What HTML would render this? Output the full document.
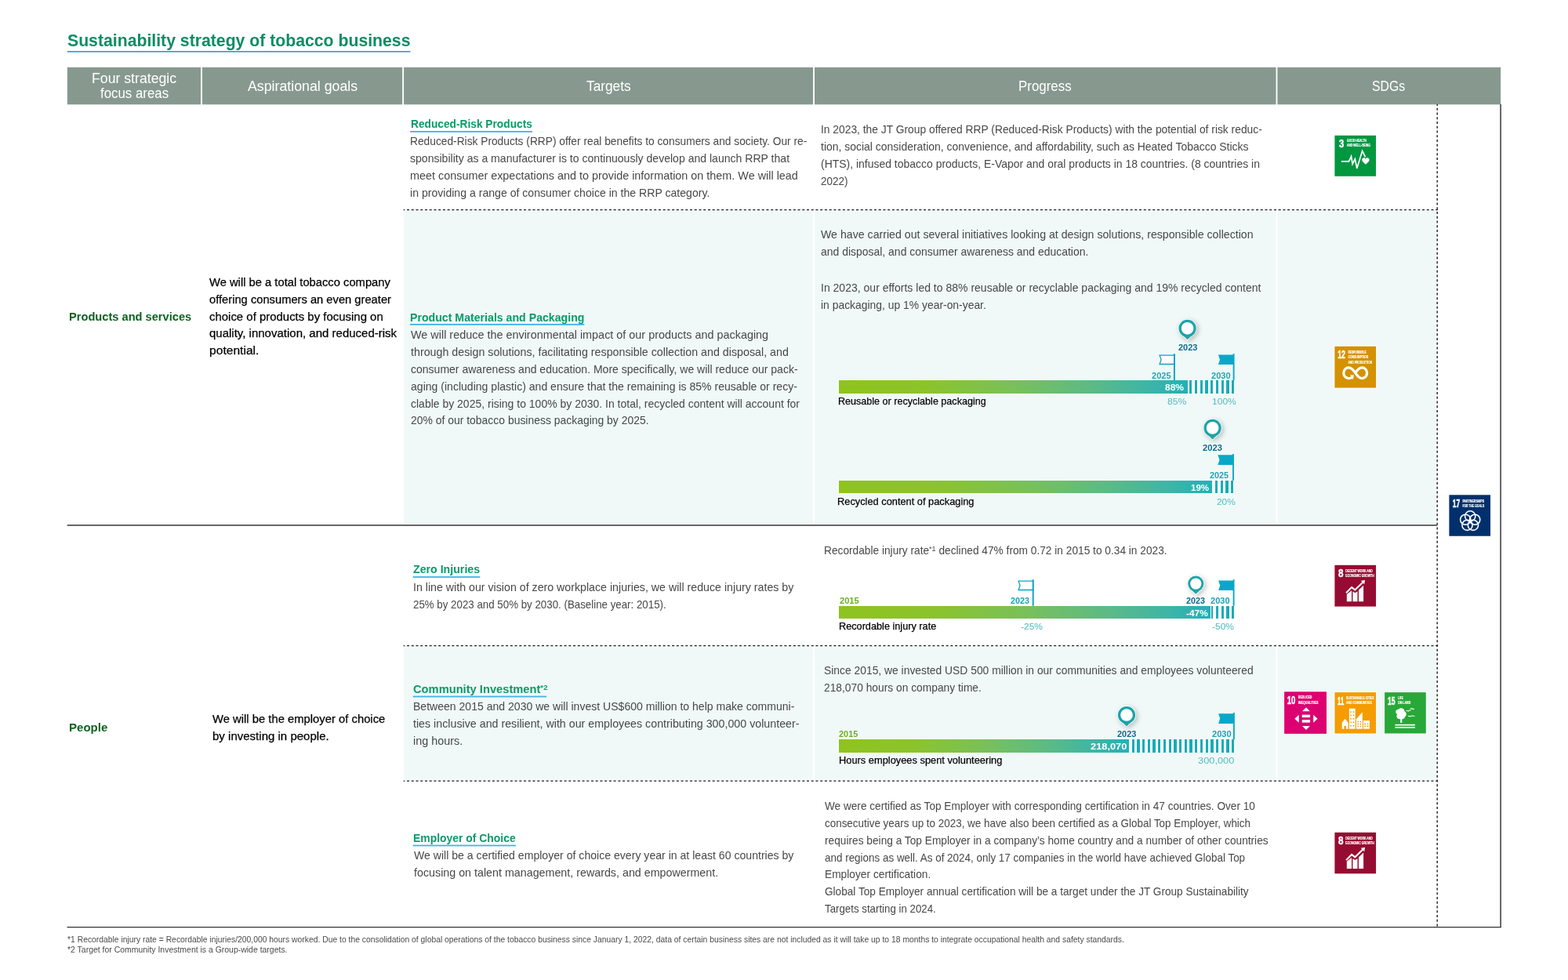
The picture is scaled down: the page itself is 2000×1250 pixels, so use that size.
<!DOCTYPE html>
<html lang="en">
<head>
<meta charset="utf-8">
<title>Sustainability strategy of tobacco business</title>
<style>
html,body{margin:0;padding:0;background:#fff}
body{position:relative;width:2000px;height:1250px;overflow:hidden;font-family:"Liberation Sans",sans-serif;color:#333}
.t{position:absolute;height:0;line-height:0;white-space:nowrap;transform-origin:0 0;margin:0;padding:0;font-weight:400}
.t sup{font-size:66%;vertical-align:baseline;position:relative;top:-.4em;line-height:0}
.ttl{color:#0c8d62;font-weight:700}
.th{color:#fff}
.c1{color:#0e6222;font-weight:700}
.c2{color:#000;-webkit-text-stroke:.25px #000}
.h3{color:#0c9a68;font-weight:700}
.b{color:#484848}
.cl{color:#000;-webkit-text-stroke:.25px #000}
.cl,.yp,.yf,.yg,.vt{text-shadow:0 0 1px #fff,0 0 1.5px #fff}
.yp{color:#0a6a8c;font-weight:700}
.yf{color:#1aa3b3;font-weight:700}
.yg{color:#6aaf1f;font-weight:700}
.vw{color:#fff;font-weight:700}
.vt{color:#49b9be}
.fn{color:#4a4a4a}
.bar{position:absolute;height:16.4px;background:linear-gradient(90deg,#8fc31f 0%,#8cc32c 25%,#7ac05a 50%,#5dba85 72%,#3fb5a6 88%,#25b0b6 100%);box-shadow:0 0 0 .7px rgba(255,255,255,.85)}
.st{position:absolute;height:16.4px;background:#19abb8;box-shadow:0 0 0 .7px rgba(255,255,255,.85)}
.sw{position:absolute;height:17.8px;background:#fff}
svg{position:absolute;overflow:visible}
</style>
</head>
<body>
<svg style="left:0;top:0" width="2000" height="1250" viewBox="0 0 2000 1250" fill="none"><rect x="85.8" y="65" width="437.6" height="1.6" fill="#2397f0"/><rect x="85.8" y="85.85" width="170.2" height="47.45" fill="#87998f"/><rect x="258" y="85.85" width="255.2" height="47.45" fill="#87998f"/><rect x="515.1" y="85.85" width="522" height="47.45" fill="#87998f"/><rect x="1039" y="85.85" width="588.55" height="47.45" fill="#87998f"/><rect x="1629.4" y="85.85" width="284.75" height="47.45" fill="#87998f"/><rect x="515.1" y="268.4" width="522" height="399.3" fill="#f0f9f8"/><rect x="1039" y="268.4" width="588.55" height="399.3" fill="#f0f9f8"/><rect x="1629.4" y="268.4" width="203.2" height="399.3" fill="#f0f9f8"/><rect x="515.1" y="824.5" width="522" height="170.9" fill="#f0f9f8"/><rect x="1039" y="824.5" width="588.55" height="170.9" fill="#f0f9f8"/><rect x="1629.4" y="824.5" width="203.2" height="170.9" fill="#f0f9f8"/><line x1="514.7" y1="267.6" x2="1833.9" y2="267.6" stroke="#1c1c1c" stroke-width="1.3" stroke-dasharray="3.05 2.68" stroke-dashoffset="1.4"/><line x1="514.7" y1="823.7" x2="1833.9" y2="823.7" stroke="#1c1c1c" stroke-width="1.3" stroke-dasharray="3.05 2.68" stroke-dashoffset="1.4"/><line x1="514.7" y1="996.2" x2="1833.9" y2="996.2" stroke="#1c1c1c" stroke-width="1.3" stroke-dasharray="3.05 2.68" stroke-dashoffset="1.4"/><line x1="1833.2" y1="133" x2="1833.2" y2="1182" stroke="#1c1c1c" stroke-width="1.4" stroke-dasharray="3.1 2.65" stroke-dashoffset="1"/><line x1="85.7" y1="670" x2="1833.2" y2="670" stroke="#333" stroke-width="1.5"/><line x1="85.5" y1="1182.5" x2="1915" y2="1182.5" stroke="#333" stroke-width="1.25"/><line x1="1914.1" y1="132.9" x2="1914.1" y2="1183" stroke="#444" stroke-width="1.6"/><rect x="523.2" y="167" width="155.8" height="1.8" fill="#3fb3ee"/><rect x="523" y="413" width="222.3" height="1.8" fill="#3fb3ee"/><rect x="526.7" y="735.1" width="85.6" height="1.8" fill="#3fb3ee"/><rect x="526.7" y="887.6" width="170.4" height="1.8" fill="#3fb3ee"/><rect x="526.7" y="1077.6" width="131.2" height="1.8" fill="#3fb3ee"/></svg>
<div class="bar" style="left:1070.2px;top:485.2px;width:444.8px"></div>
<div class="sw" style="left:1515.4px;top:484.5px;width:59.68px"></div>
<div class="st" style="left:1517px;top:485.2px;width:3.3px;box-shadow:none"></div>
<div class="st" style="left:1523.76px;top:485.2px;width:3.3px;box-shadow:none"></div>
<div class="st" style="left:1530.52px;top:485.2px;width:3.3px;box-shadow:none"></div>
<div class="st" style="left:1537.28px;top:485.2px;width:3.3px;box-shadow:none"></div>
<div class="st" style="left:1544.04px;top:485.2px;width:3.3px;box-shadow:none"></div>
<div class="st" style="left:1550.8px;top:485.2px;width:3.3px;box-shadow:none"></div>
<div class="st" style="left:1557.56px;top:485.2px;width:3.3px;box-shadow:none"></div>
<div class="st" style="left:1564.32px;top:485.2px;width:3.3px;box-shadow:none"></div>
<div class="st" style="left:1571.08px;top:485.2px;width:3.3px;box-shadow:none"></div>
<div class="bar" style="left:1070.2px;top:612.9px;width:475.9px"></div>
<div class="sw" style="left:1548.2px;top:612.2px;width:26px"></div>
<div class="st" style="left:1549.8px;top:612.9px;width:3.4px;box-shadow:none"></div>
<div class="st" style="left:1556.5px;top:612.9px;width:3.4px;box-shadow:none"></div>
<div class="st" style="left:1563.3px;top:612.9px;width:3.4px;box-shadow:none"></div>
<div class="st" style="left:1570.1px;top:612.9px;width:3.4px;box-shadow:none"></div>
<div class="bar" style="left:1070.2px;top:772.8px;width:473.6px"></div>
<div class="sw" style="left:1549.2px;top:772.1px;width:26px"></div>
<div class="st" style="left:1550.8px;top:772.8px;width:3.4px;box-shadow:none"></div>
<div class="st" style="left:1557.6px;top:772.8px;width:3.4px;box-shadow:none"></div>
<div class="st" style="left:1564.3px;top:772.8px;width:3.4px;box-shadow:none"></div>
<div class="st" style="left:1571.1px;top:772.8px;width:3.4px;box-shadow:none"></div>
<div class="st" style="left:1545.1px;top:772.8px;width:2.1px;box-shadow:none"></div>
<div class="bar" style="left:1070px;top:943.4px;width:370px"></div>
<div class="sw" style="left:1442px;top:942.7px;width:133.2px"></div>
<div class="st" style="left:1443.6px;top:943.4px;width:3.3px;box-shadow:none"></div>
<div class="st" style="left:1450.32px;top:943.4px;width:3.3px;box-shadow:none"></div>
<div class="st" style="left:1457.03px;top:943.4px;width:3.3px;box-shadow:none"></div>
<div class="st" style="left:1463.75px;top:943.4px;width:3.3px;box-shadow:none"></div>
<div class="st" style="left:1470.46px;top:943.4px;width:3.3px;box-shadow:none"></div>
<div class="st" style="left:1477.18px;top:943.4px;width:3.3px;box-shadow:none"></div>
<div class="st" style="left:1483.9px;top:943.4px;width:3.3px;box-shadow:none"></div>
<div class="st" style="left:1490.61px;top:943.4px;width:3.3px;box-shadow:none"></div>
<div class="st" style="left:1497.33px;top:943.4px;width:3.3px;box-shadow:none"></div>
<div class="st" style="left:1504.04px;top:943.4px;width:3.3px;box-shadow:none"></div>
<div class="st" style="left:1510.76px;top:943.4px;width:3.3px;box-shadow:none"></div>
<div class="st" style="left:1517.48px;top:943.4px;width:3.3px;box-shadow:none"></div>
<div class="st" style="left:1524.19px;top:943.4px;width:3.3px;box-shadow:none"></div>
<div class="st" style="left:1530.91px;top:943.4px;width:3.3px;box-shadow:none"></div>
<div class="st" style="left:1537.62px;top:943.4px;width:3.3px;box-shadow:none"></div>
<div class="st" style="left:1544.34px;top:943.4px;width:3.3px;box-shadow:none"></div>
<div class="st" style="left:1551.06px;top:943.4px;width:3.3px;box-shadow:none"></div>
<div class="st" style="left:1557.77px;top:943.4px;width:3.3px;box-shadow:none"></div>
<div class="st" style="left:1564.49px;top:943.4px;width:3.3px;box-shadow:none"></div>
<div class="st" style="left:1571.2px;top:943.4px;width:3.3px;box-shadow:none"></div>
<svg style="left:0;top:0" width="2000" height="1250" viewBox="0 0 2000 1250"><g transform="translate(1477.2 451.2)"><path d="M20.7 1.9 H1.9 L3.9 7.6 L1.9 13.3 H20.7 Z" fill="#fff" stroke="#0aa3c6" stroke-width="1.3"/><rect x="19.75" y="0" width="1.9" height="34" fill="#0aa3c6"/></g><g transform="translate(1552.9 451.2)"><path d="M20.7 1.3 H1 L3.1 7.6 L1 13.9 H20.7 Z" fill="#0aa8c8"/><rect x="19.75" y="0" width="1.9" height="34" fill="#0aa8c8"/></g><g transform="translate(1514.6 418.8)" style="filter:drop-shadow(2.4px 2.8px 3px rgba(0,0,0,.24))"><circle r="11.9" fill="#fff"/><path d="M-4.66 9.99 L0 14.54 L4.66 9.99 Z" fill="#fff" stroke="#fff" stroke-width="1.6" stroke-linejoin="round"/><circle r="11.1" fill="#1ba4a9"/><path d="M-4.66 9.99 L0 14.54 L4.66 9.99 Z" fill="#27a0a4"/><circle r="7.83" fill="#fff"/></g><g transform="translate(1552.4 579)"><path d="M20.6 1.3 H1 L3.1 7.6 L1 13.9 H20.6 Z" fill="#0aa8c8"/><rect x="19.65" y="0" width="1.9" height="33.9" fill="#0aa8c8"/></g><g transform="translate(1546.6 545.9)" style="filter:drop-shadow(2.4px 2.8px 3px rgba(0,0,0,.24))"><circle r="11.9" fill="#fff"/><path d="M-4.66 9.99 L0 14.54 L4.66 9.99 Z" fill="#fff" stroke="#fff" stroke-width="1.6" stroke-linejoin="round"/><circle r="11.1" fill="#1ba4a9"/><path d="M-4.66 9.99 L0 14.54 L4.66 9.99 Z" fill="#27a0a4"/><circle r="7.83" fill="#fff"/></g><g transform="translate(1297.2 739.2)"><path d="M20.5 1.9 H1.9 L3.9 7.6 L1.9 13.3 H20.5 Z" fill="#fff" stroke="#0aa3c6" stroke-width="1.3"/><rect x="19.55" y="0" width="1.9" height="33.6" fill="#0aa3c6"/></g><g transform="translate(1553.1 739.1)"><path d="M20.5 1.3 H1 L3.1 7.6 L1 13.9 H20.5 Z" fill="#0aa8c8"/><rect x="19.55" y="0" width="1.9" height="33.7" fill="#0aa8c8"/></g><g transform="translate(1525.3 744.6)" style="filter:drop-shadow(2.4px 2.8px 3px rgba(0,0,0,.24))"><circle r="10.9" fill="#fff"/><path d="M-4.24 9.09 L0 13.23 L4.24 9.09 Z" fill="#fff" stroke="#fff" stroke-width="1.6" stroke-linejoin="round"/><circle r="10.1" fill="#1ba4a9"/><path d="M-4.24 9.09 L0 13.23 L4.24 9.09 Z" fill="#27a0a4"/><circle r="7.12" fill="#fff"/></g><g transform="translate(1553.1 909)"><path d="M20.8 1.3 H1 L3.1 7.6 L1 13.9 H20.8 Z" fill="#0aa8c8"/><rect x="19.85" y="0" width="1.9" height="34.4" fill="#0aa8c8"/></g><g transform="translate(1437 912)" style="filter:drop-shadow(2.4px 2.8px 3px rgba(0,0,0,.24))"><circle r="11.9" fill="#fff"/><path d="M-4.66 9.99 L0 14.54 L4.66 9.99 Z" fill="#fff" stroke="#fff" stroke-width="1.6" stroke-linejoin="round"/><circle r="11.1" fill="#1ba4a9"/><path d="M-4.66 9.99 L0 14.54 L4.66 9.99 Z" fill="#27a0a4"/><circle r="7.83" fill="#fff"/></g></svg>
<svg style="left:0;top:0" width="2000" height="1250" viewBox="0 0 2000 1250" font-family="Liberation Sans, sans-serif" font-weight="700" fill="#fff">
<g transform="translate(1702.4 172.8) scale(1.0010 0.9886)"><rect width="52.6" height="52.6" fill="#00973f"/><text x="5.5" y="15.6" font-size="15.2" textLength="6.2" lengthAdjust="spacingAndGlyphs" stroke="#fff" stroke-width=".5">3</text><text x="15.6" y="8.7" font-size="6.1" textLength="24.9" lengthAdjust="spacingAndGlyphs" stroke="#fff" stroke-width=".22">GOOD HEALTH</text><text x="15.6" y="14.6" font-size="6.1" textLength="29.9" lengthAdjust="spacingAndGlyphs" stroke="#fff" stroke-width=".22">AND WELL-BEING</text><path d="M9.1 33.5H18.1L21.1 26.8L22.7 36.8L25.9 30.4L28.4 42.4L35.2 20L38.8 27.2" fill="none" stroke="#fff" stroke-width="1.7" stroke-linejoin="miter" stroke-linecap="round"/><path d="M39.5 37.4C36.6 35 34.8 33.4 34.8 31.4C34.8 29.9 35.9 28.8 37.3 28.8C38.2 28.8 39 29.3 39.5 30.1C40 29.3 40.8 28.8 41.7 28.8C43.1 28.8 44.2 29.9 44.2 31.4C44.2 33.4 42.4 35 39.5 37.4Z"/></g>
<g transform="translate(1702.4 441.8) scale(1.0010 1.0038)"><rect x="-1.4" y="-1.4" width="55.4" height="55.4" fill="#fff" opacity=".55"/><rect width="52.6" height="52.6" fill="#d49100"/><text x="3.8" y="15.6" font-size="15.2" textLength="9.8" lengthAdjust="spacingAndGlyphs" stroke="#fff" stroke-width=".5">12</text><text x="17" y="8.8" font-size="6.1" textLength="23.2" lengthAdjust="spacingAndGlyphs" stroke="#fff" stroke-width=".22">RESPONSIBLE</text><text x="17" y="15.4" font-size="6.1" textLength="25.7" lengthAdjust="spacingAndGlyphs" stroke="#fff" stroke-width=".22">CONSUMPTION</text><text x="17" y="21.8" font-size="6.1" textLength="30.8" lengthAdjust="spacingAndGlyphs" stroke="#fff" stroke-width=".22">AND PRODUCTION</text><path d="M26.3 33.8C23.5 29.4 21.3 27 18 27C14.3 27 11.4 30 11.4 33.8C11.4 37.6 14.3 40.6 18 40.6C19.5 40.6 20.8 40.2 22 39.4M26.3 33.8C29.1 38.2 31.3 40.6 34.6 40.6C38.3 40.6 41.2 37.6 41.2 33.8C41.2 30 38.3 27 34.6 27C31.3 27 29.1 29.4 26.3 33.8" fill="none" stroke="#fff" stroke-width="3.3"/><path d="M19.6 36.2L24.6 36.6L23.4 42.4Z"/></g>
<g transform="translate(1848.4 631.3) scale(1.0010 0.9971)"><rect width="52.6" height="52.6" fill="#00306c"/><text x="4.3" y="15.6" font-size="15.2" textLength="9.5" lengthAdjust="spacingAndGlyphs" stroke="#fff" stroke-width=".5">17</text><text x="17" y="9.3" font-size="6.1" textLength="27.7" lengthAdjust="spacingAndGlyphs" stroke="#fff" stroke-width=".22">PARTNERSHIPS</text><text x="17" y="15.4" font-size="6.1" textLength="27.7" lengthAdjust="spacingAndGlyphs" stroke="#fff" stroke-width=".22">FOR THE GOALS</text><circle cx="26.8" cy="27.2" r="6.6" fill="none" stroke="#fff" stroke-width="1.55"/><circle cx="32.79" cy="31.55" r="6.6" fill="none" stroke="#fff" stroke-width="1.55"/><circle cx="30.5" cy="38.6" r="6.6" fill="none" stroke="#fff" stroke-width="1.55"/><circle cx="23.1" cy="38.6" r="6.6" fill="none" stroke="#fff" stroke-width="1.55"/><circle cx="20.81" cy="31.55" r="6.6" fill="none" stroke="#fff" stroke-width="1.55"/></g>
<g transform="translate(1702.4 720.8) scale(1.0010 1.0038)"><rect width="52.6" height="52.6" fill="#960b31"/><text x="4.6" y="15.6" font-size="15.2" textLength="6.5" lengthAdjust="spacingAndGlyphs" stroke="#fff" stroke-width=".5">8</text><text x="13.9" y="9.2" font-size="6.1" textLength="34.4" lengthAdjust="spacingAndGlyphs" stroke="#fff" stroke-width=".22">DECENT WORK AND</text><text x="13.9" y="15.4" font-size="6.1" textLength="36.4" lengthAdjust="spacingAndGlyphs" stroke="#fff" stroke-width=".22">ECONOMIC GROWTH</text><path d="M15.4 37L21.6 32.3V46.2H15.4Z"/><path d="M23 33.3L26 35.3L29.1 33.2V46.2H23Z"/><path d="M30.6 31.6L36.7 25.8V46.2H30.6Z"/><path d="M14.6 35.4L21.7 28.2L25.9 31.5L35.6 22" fill="none" stroke="#fff" stroke-width="2.1"/><path d="M33.4 19.9L38.7 19.1L37.7 24.4Z"/></g>
<g transform="translate(1638.1 882.3) scale(1.0247 1.0190)"><rect x="-1.4" y="-1.4" width="55.4" height="55.4" fill="#fff" opacity=".55"/><rect width="52.6" height="52.6" fill="#dc0070"/><text x="3.6" y="15.6" font-size="15.2" textLength="10.4" lengthAdjust="spacingAndGlyphs" stroke="#fff" stroke-width=".5">10</text><text x="17.3" y="8.5" font-size="6.1" textLength="17.2" lengthAdjust="spacingAndGlyphs" stroke="#fff" stroke-width=".22">REDUCED</text><text x="17.3" y="15.4" font-size="6.1" textLength="25" lengthAdjust="spacingAndGlyphs" stroke="#fff" stroke-width=".22">INEQUALITIES</text><path d="M27.2 19.6L32 24.6H22.4Z"/><path d="M27.2 47.9L32 42.9H22.4Z"/><path d="M12.9 33.7L18.2 28.8V38.6Z"/><path d="M41.5 33.7L36.2 28.8V38.6Z"/><rect x="22.1" y="28.8" width="10.1" height="3.4"/><rect x="22.1" y="35.2" width="10.1" height="3.4"/></g>
<g transform="translate(1702.5 883.1) scale(0.9981 0.9962)"><rect x="-1.4" y="-1.4" width="55.4" height="55.4" fill="#fff" opacity=".55"/><rect width="52.6" height="52.6" fill="#f59c00"/><text x="3.6" y="15.6" font-size="15.2" textLength="8.2" lengthAdjust="spacingAndGlyphs" stroke="#fff" stroke-width=".5">11</text><text x="14.6" y="9.1" font-size="6.1" textLength="35.5" lengthAdjust="spacingAndGlyphs" stroke="#fff" stroke-width=".22">SUSTAINABLE CITIES</text><text x="14.6" y="15.4" font-size="6.1" textLength="32.7" lengthAdjust="spacingAndGlyphs" stroke="#fff" stroke-width=".22">AND COMMUNITIES</text><path d="M9.2 38.9L13.2 33.9L17.1 38.9V46.8H14.4V43H12V46.8H9.2Z"/><rect x="18.4" y="20.7" width="7.8" height="26.1"/><path d="M27.4 34.4L35.4 25.2V46.8H27.4Z"/><rect x="36.4" y="36.1" width="8.1" height="10.7"/><rect x="19.8" y="24.3" width="1.5" height="1.6" fill="#f39a00"/><rect x="23.2" y="24.3" width="1.5" height="1.6" fill="#f39a00"/><rect x="19.8" y="28.7" width="1.5" height="1.6" fill="#f39a00"/><rect x="23.2" y="28.7" width="1.5" height="1.6" fill="#f39a00"/><rect x="19.8" y="33.1" width="1.5" height="1.6" fill="#f39a00"/><rect x="23.2" y="33.1" width="1.5" height="1.6" fill="#f39a00"/><rect x="19.8" y="37.5" width="1.5" height="1.6" fill="#f39a00"/><rect x="23.2" y="37.5" width="1.5" height="1.6" fill="#f39a00"/><rect x="19.8" y="41.9" width="1.5" height="1.6" fill="#f39a00"/><rect x="23.2" y="41.9" width="1.5" height="1.6" fill="#f39a00"/><rect x="28.9" y="37" width="1.6" height="1.5" fill="#f39a00"/><rect x="32.2" y="37" width="1.6" height="1.5" fill="#f39a00"/><rect x="28.9" y="39.9" width="1.6" height="1.5" fill="#f39a00"/><rect x="32.2" y="39.9" width="1.6" height="1.5" fill="#f39a00"/><rect x="28.9" y="42.8" width="1.6" height="1.5" fill="#f39a00"/><rect x="32.2" y="42.8" width="1.6" height="1.5" fill="#f39a00"/><rect x="37.8" y="39.8" width="1.8" height="1.5" fill="#f39a00"/><rect x="41.2" y="39.8" width="1.8" height="1.5" fill="#f39a00"/><rect x="37.8" y="42.7" width="1.8" height="1.5" fill="#f39a00"/><rect x="41.2" y="42.7" width="1.8" height="1.5" fill="#f39a00"/></g>
<g transform="translate(1766.1 883.1) scale(1.0019 0.9962)"><rect x="-1.4" y="-1.4" width="55.4" height="55.4" fill="#fff" opacity=".55"/><rect width="52.6" height="52.6" fill="#28a838"/><text x="4" y="15.6" font-size="15.2" textLength="9.5" lengthAdjust="spacingAndGlyphs" stroke="#fff" stroke-width=".5">15</text><text x="16.9" y="9.1" font-size="6.1" textLength="6.7" lengthAdjust="spacingAndGlyphs" stroke="#fff" stroke-width=".22">LIFE</text><text x="16.9" y="15.3" font-size="6.1" textLength="16.2" lengthAdjust="spacingAndGlyphs" stroke="#fff" stroke-width=".22">ON LAND</text><path d="M21.1 20.2C23.6 20.2 25.3 22 25.3 24.2C26.8 24.9 27.6 26.3 27.6 27.9C27.6 29.4 26.9 30.5 25.9 31.1C25.8 33 24.3 34.3 22.4 34.3H19.6C17.2 34.3 15.2 32.8 15.2 30.6C15.2 29.6 15.6 28.8 16.2 28.2C14.9 27.6 14.1 26.4 14.1 25.1C14.1 23.1 15.7 21.8 17.4 21.8C18.2 20.8 19.5 20.2 21.1 20.2Z"/><rect x="20" y="34" width="2.2" height="4.9"/><rect x="13.3" y="40.9" width="25.4" height="1.7"/><rect x="13.3" y="44.1" width="25.4" height="1.7"/><path d="M27.2 23.9Q28.8 22.8 30.3 24.1Q31.8 22.4 33.8 22.9M32.6 20.6Q34.1 20 35.2 21.4Q36.4 20.6 37.6 21.9M29.9 30.9Q31.4 29.6 33 31Q34.6 29.4 38.2 30.5" fill="none" stroke="#fff" stroke-width="1"/></g>
<g transform="translate(1702.4 1061.8) scale(1.0010 0.9981)"><rect width="52.6" height="52.6" fill="#960b31"/><text x="4.6" y="15.6" font-size="15.2" textLength="6.5" lengthAdjust="spacingAndGlyphs" stroke="#fff" stroke-width=".5">8</text><text x="13.9" y="9.2" font-size="6.1" textLength="34.4" lengthAdjust="spacingAndGlyphs" stroke="#fff" stroke-width=".22">DECENT WORK AND</text><text x="13.9" y="15.4" font-size="6.1" textLength="36.4" lengthAdjust="spacingAndGlyphs" stroke="#fff" stroke-width=".22">ECONOMIC GROWTH</text><path d="M15.4 37L21.6 32.3V46.2H15.4Z"/><path d="M23 33.3L26 35.3L29.1 33.2V46.2H23Z"/><path d="M30.6 31.6L36.7 25.8V46.2H30.6Z"/><path d="M14.6 35.4L21.7 28.2L25.9 31.5L35.6 22" fill="none" stroke="#fff" stroke-width="2.1"/><path d="M33.4 19.9L38.7 19.1L37.7 24.4Z"/></g>
</svg>
<h1 class="t ttl" style="left:85.5px;top:52px;font-size:22.4px;transform:scaleX(0.9477)">Sustainability strategy of tobacco business</h1>
<div class="t th" style="left:116.5px;top:100px;font-size:18.8px;transform:scaleX(0.9417)">Four strategic</div>
<div class="t th" style="left:127.5px;top:119px;font-size:18.8px;transform:scaleX(0.8978)">focus areas</div>
<div class="t th" style="left:315.5px;top:110px;font-size:18.8px;transform:scaleX(0.9457)">Aspirational goals</div>
<div class="t th" style="left:747.5px;top:110px;font-size:18.8px;transform:scaleX(0.9195)">Targets</div>
<div class="t th" style="left:1298.5px;top:110px;font-size:18.8px;transform:scaleX(0.8991)">Progress</div>
<div class="t th" style="left:1749.5px;top:110px;font-size:18.8px;transform:scaleX(0.8410)">SDGs</div>
<div class="t c1" style="left:87.5px;top:404px;font-size:15.5px;transform:scaleX(0.9442)">Products and services</div>
<div class="t c1" style="left:87.5px;top:928px;font-size:15.5px;transform:scaleX(0.9706)">People</div>
<p class="t c2" style="left:266.5px;top:360px;font-size:15.2px;transform:scaleX(0.9710)">We will be a total tobacco company</p>
<p class="t c2" style="left:266.5px;top:382px;font-size:15.2px;transform:scaleX(0.9686)">offering consumers an even greater</p>
<p class="t c2" style="left:266.5px;top:404px;font-size:15.2px;transform:scaleX(0.9835)">choice of products by focusing on</p>
<p class="t c2" style="left:266.5px;top:425px;font-size:15.2px;transform:scaleX(0.9880)">quality, innovation, and reduced-risk</p>
<p class="t c2" style="left:266.5px;top:447px;font-size:15.2px;transform:scaleX(1.0292)">potential.</p>
<p class="t c2" style="left:270.5px;top:917px;font-size:15.2px;transform:scaleX(0.9750)">We will be the employer of choice</p>
<p class="t c2" style="left:270.5px;top:939px;font-size:15.2px;transform:scaleX(0.9893)">by investing in people.</p>
<h3 class="t h3" style="left:523.5px;top:158px;font-size:14.8px;transform:scaleX(0.9278)">Reduced-Risk Products</h3>
<p class="t b" style="left:522.5px;top:180px;font-size:14.2px;transform:scaleX(0.9695)">Reduced-Risk Products (RRP) offer real benefits to consumers and society. Our re-</p>
<p class="t b" style="left:522.5px;top:202px;font-size:14.2px;transform:scaleX(0.9905)">sponsibility as a manufacturer is to continuously develop and launch RRP that</p>
<p class="t b" style="left:522.5px;top:224px;font-size:14.2px;transform:scaleX(1.0143)">meet consumer expectations and to provide information on them. We will lead</p>
<p class="t b" style="left:522.5px;top:246px;font-size:14.2px;transform:scaleX(0.9928)">in providing a range of consumer choice in the RRP category.</p>
<h3 class="t h3" style="left:522.55px;top:405px;font-size:14.8px;transform:scaleX(0.9559)">Product Materials and Packaging</h3>
<p class="t b" style="left:523.55px;top:427px;font-size:14.2px;transform:scaleX(1.0153)">We will reduce the environmental impact of our products and packaging</p>
<p class="t b" style="left:523.55px;top:449px;font-size:14.2px;transform:scaleX(1.0049)">through design solutions, facilitating responsible collection and disposal, and</p>
<p class="t b" style="left:523.55px;top:471px;font-size:14.2px;transform:scaleX(0.9878)">consumer awareness and education. More specifically, we will reduce our pack-</p>
<p class="t b" style="left:523.55px;top:493px;font-size:14.2px;transform:scaleX(0.9905)">aging (including plastic) and ensure that the remaining is 85% reusable or recy-</p>
<p class="t b" style="left:523.55px;top:515px;font-size:14.2px;transform:scaleX(0.9858)">clable by 2025, rising to 100% by 2030. In total, recycled content will account for</p>
<p class="t b" style="left:523.55px;top:536px;font-size:14.2px;transform:scaleX(0.9818)">20% of our tobacco business packaging by 2025.</p>
<h3 class="t h3" style="left:526.5px;top:726px;font-size:14.8px;transform:scaleX(0.9583)">Zero Injuries</h3>
<p class="t b" style="left:526.5px;top:749px;font-size:14.2px;transform:scaleX(1.0008)">In line with our vision of zero workplace injuries, we will reduce injury rates by</p>
<p class="t b" style="left:526.5px;top:771px;font-size:14.2px;transform:scaleX(0.9384)">25% by 2023 and 50% by 2030. (Baseline year: 2015).</p>
<h3 class="t h3" style="left:526.5px;top:879px;font-size:14.8px;transform:scaleX(0.9923)">Community Investment<sup>*2</sup></h3>
<p class="t b" style="left:526.5px;top:901px;font-size:14.2px;transform:scaleX(0.9900)">Between 2015 and 2030 we will invest US$600 million to help make communi-</p>
<p class="t b" style="left:526.5px;top:923px;font-size:14.2px;transform:scaleX(1.0040)">ties inclusive and resilient, with our employees contributing 300,000 volunteer-</p>
<p class="t b" style="left:526.5px;top:945px;font-size:14.2px;transform:scaleX(1.0155)">ing hours.</p>
<h3 class="t h3" style="left:526.5px;top:1069px;font-size:14.8px;transform:scaleX(0.9404)">Employer of Choice</h3>
<p class="t b" style="left:527.5px;top:1091px;font-size:14.2px;transform:scaleX(0.9929)">We will be a certified employer of choice every year in at least 60 countries by</p>
<p class="t b" style="left:527.5px;top:1113px;font-size:14.2px;transform:scaleX(1.0066)">focusing on talent management, rewards, and empowerment.</p>
<p class="t b" style="left:1046.65px;top:165px;font-size:14.2px;transform:scaleX(0.9736)">In 2023, the JT Group offered RRP (Reduced-Risk Products) with the potential of risk reduc-</p>
<p class="t b" style="left:1046.65px;top:187px;font-size:14.2px;transform:scaleX(0.9839)">tion, social consideration, convenience, and affordability, such as Heated Tobacco Sticks</p>
<p class="t b" style="left:1046.65px;top:209px;font-size:14.2px;transform:scaleX(0.9839)">(HTS), infused tobacco products, E-Vapor and oral products in 18 countries. (8 countries in</p>
<p class="t b" style="left:1046.65px;top:231px;font-size:14.2px;transform:scaleX(0.9492)">2022)</p>
<p class="t b" style="left:1046.65px;top:299px;font-size:14.2px;transform:scaleX(0.9982)">We have carried out several initiatives looking at design solutions, responsible collection</p>
<p class="t b" style="left:1046.65px;top:321px;font-size:14.2px;transform:scaleX(0.9836)">and disposal, and consumer awareness and education.</p>
<p class="t b" style="left:1046.65px;top:367px;font-size:14.2px;transform:scaleX(0.9877)">In 2023, our efforts led to 88% reusable or recyclable packaging and 19% recycled content</p>
<p class="t b" style="left:1046.65px;top:389px;font-size:14.2px;transform:scaleX(0.9792)">in packaging, up 1% year-on-year.</p>
<p class="t b" style="left:1050.55px;top:702px;font-size:14.2px;transform:scaleX(0.9662)">Recordable injury rate<sup>*1</sup> declined 47% from 0.72 in 2015 to 0.34 in 2023.</p>
<p class="t b" style="left:1050.55px;top:855px;font-size:14.2px;transform:scaleX(0.9767)">Since 2015, we invested USD 500 million in our communities and employees volunteered</p>
<p class="t b" style="left:1050.55px;top:877px;font-size:14.2px;transform:scaleX(0.9721)">218,070 hours on company time.</p>
<p class="t b" style="left:1051.65px;top:1028px;font-size:14.2px;transform:scaleX(0.9596)">We were certified as Top Employer with corresponding certification in 47 countries. Over 10</p>
<p class="t b" style="left:1051.65px;top:1050px;font-size:14.2px;transform:scaleX(0.9462)">consecutive years up to 2023, we have also been certified as a Global Top Employer, which</p>
<p class="t b" style="left:1051.65px;top:1072px;font-size:14.2px;transform:scaleX(0.9662)">requires being a Top Employer in a company’s home country and a number of other countries</p>
<p class="t b" style="left:1051.65px;top:1094px;font-size:14.2px;transform:scaleX(0.9471)">and regions as well. As of 2024, only 17 companies in the world have achieved Global Top</p>
<p class="t b" style="left:1051.65px;top:1115px;font-size:14.2px;transform:scaleX(0.9691)">Employer certification.</p>
<p class="t b" style="left:1051.65px;top:1137px;font-size:14.2px;transform:scaleX(0.9597)">Global Top Employer annual certification will be a target under the JT Group Sustainability</p>
<p class="t b" style="left:1051.65px;top:1159px;font-size:14.2px;transform:scaleX(0.9365)">Targets starting in 2024.</p>
<div class="t cl" style="left:1068.5px;top:512px;font-size:13.6px;transform:scaleX(0.9248)">Reusable or recyclable packaging</div>
<div class="t cl" style="left:1067.5px;top:640px;font-size:13.6px;transform:scaleX(0.9424)">Recycled content of packaging</div>
<div class="t cl" style="left:1069.5px;top:799px;font-size:13.6px;transform:scaleX(0.9341)">Recordable injury rate</div>
<div class="t cl" style="left:1069.5px;top:970px;font-size:13.6px;transform:scaleX(0.9444)">Hours employees spent volunteering</div>
<div class="t yp" style="left:1502.65px;top:443px;font-size:10.8px;transform:scaleX(1.0144)">2023</div>
<div class="t yf" style="left:1468.7px;top:479px;font-size:10.8px;transform:scaleX(1.0236)">2025</div>
<div class="t yf" style="left:1544.55px;top:479px;font-size:10.8px;transform:scaleX(1.0262)">2030</div>
<div class="t vw" style="left:1485.55px;top:494px;font-size:11.4px;transform:scaleX(1.0552)">88%</div>
<div class="t vt" style="left:1488.65px;top:512px;font-size:11.2px;transform:scaleX(1.0936)">85%</div>
<div class="t vt" style="left:1545.6px;top:512px;font-size:11.2px;transform:scaleX(1.0763)">100%</div>
<div class="t yp" style="left:1533.7px;top:571px;font-size:10.8px;transform:scaleX(1.0362)">2023</div>
<div class="t yf" style="left:1542.7px;top:606px;font-size:10.8px;transform:scaleX(1.0015)">2025</div>
<div class="t vw" style="left:1518.65px;top:622px;font-size:11.4px;transform:scaleX(1.0113)">19%</div>
<div class="t vt" style="left:1551.65px;top:640px;font-size:11.2px;transform:scaleX(1.0641)">20%</div>
<div class="t yg" style="left:1070.5px;top:766px;font-size:10.8px;transform:scaleX(1.0275)">2015</div>
<div class="t yf" style="left:1288.5px;top:766px;font-size:10.8px;transform:scaleX(0.9991)">2023</div>
<div class="t yp" style="left:1512.7px;top:766px;font-size:10.8px;transform:scaleX(0.9963)">2023</div>
<div class="t yf" style="left:1543.5px;top:766px;font-size:10.8px;transform:scaleX(1.0202)">2030</div>
<div class="t vw" style="left:1512.65px;top:782px;font-size:11.4px;transform:scaleX(1.0404)">-47%</div>
<div class="t vt" style="left:1301.7px;top:799px;font-size:11.2px;transform:scaleX(1.0733)">-25%</div>
<div class="t vt" style="left:1545.6px;top:799px;font-size:11.2px;transform:scaleX(1.0705)">-50%</div>
<div class="t yg" style="left:1069.5px;top:936px;font-size:10.8px;transform:scaleX(1.0111)">2015</div>
<div class="t yp" style="left:1424.5px;top:936px;font-size:10.8px;transform:scaleX(1.0144)">2023</div>
<div class="t yf" style="left:1545.55px;top:936px;font-size:10.8px;transform:scaleX(1.0273)">2030</div>
<div class="t vw" style="left:1390.55px;top:952px;font-size:11.4px;transform:scaleX(1.1259)">218,070</div>
<div class="t vt" style="left:1527.55px;top:970px;font-size:11.2px;transform:scaleX(1.1453)">300,000</div>
<p class="t fn" style="left:85.5px;top:1198px;font-size:10.5px;transform:scaleX(0.9853)">*1 Recordable injury rate = Recordable injuries/200,000 hours worked. Due to the consolidation of global operations of the tobacco business since January 1, 2022, data of certain business sites are not included as it will take up to 18 months to integrate occupational health and safety standards.</p>
<p class="t fn" style="left:85.5px;top:1211px;font-size:10.5px;transform:scaleX(0.9959)">*2 Target for Community Investment is a Group-wide targets.</p>
</body>
</html>
